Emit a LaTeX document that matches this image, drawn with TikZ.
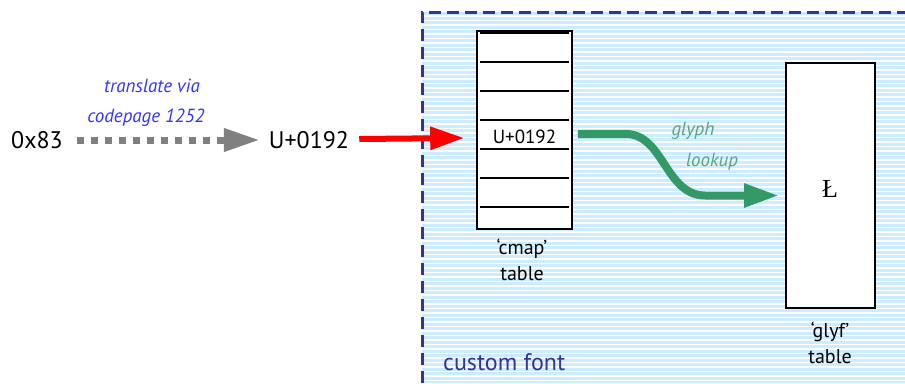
\documentclass[tikz,border=0pt]{standalone}
\usepackage{fontspec}
\setmainfont{PT Sans}
\newfontfamily\glyphfont{Liberation Serif}
\usetikzlibrary{arrows.meta,positioning,calc}
\definecolor{fontBlue}{RGB}{51,51,153}
\definecolor{stripeBlue}{RGB}{204,236,255}
\definecolor{labelBlue}{RGB}{51,51,255}
\definecolor{lookupGreen}{RGB}{51,153,102}
\definecolor{lookupLabel}{RGB}{85,165,125}
\definecolor{arrowGray}{RGB}{128,128,128}

\begin{document}
\begin{tikzpicture}[
  x=1pt,y=-1pt,
  code/.style={
    inner sep=0pt,
    font=\fontsize{24}{28}\selectfont
  },
  note/.style={
    inner sep=0pt,
    font=\fontsize{19}{22}\selectfont\itshape
  },
  caption/.style={
    inner sep=0pt,
    align=center,
    font=\fontsize{20}{28}\selectfont
  },
  table/.style={
    draw,
    line width=1.6pt,
    fill=white,
    inner sep=0pt
  },
  translate/.style={
    arrowGray,
    line width=7pt,
    dash pattern=on 7pt off 7pt,
    -{Triangle[length=36pt,width=22pt]}
  },
  map/.style={
    red,
    line width=6pt,
    -{Triangle[length=34pt,width=22pt]}
  },
  lookup/.style={
    lookupGreen,
    line width=8pt,
    -{Triangle[length=35pt,width=22pt]}
  }
]
  \useasboundingbox (0,0) rectangle (905,383);

  % custom font area
  \fill[stripeBlue] (422,12) rectangle (905,383);
  \foreach \y in {16,20.5,...,383}
    \draw[white,line width=1.1pt] (422,\y) -- (905,\y);
  \draw[fontBlue,line width=3pt,dash pattern=on 12pt off 6pt]
    (422,383) -- (422,12) -- (905,12);
  \node[inner sep=0pt,text=fontBlue,anchor=west,
    font=\fontsize{24}{28}\selectfont] (font) at (443,362) {custom font};

  % input codes
  \node[code] (byte) at (37,140) {0x83};
  \node[code] (uni) at (309,140) {U+0192};
  \node[note,text=labelBlue] (via) at (152,86) {translate via};
  \node[note,text=labelBlue] (page) at (146,118) {codepage 1252};

  % cmap table
  \node[table,minimum width=95pt,minimum height=198pt] (cmap) at (524.5,130) {};
  \foreach \dy in {3,32,61,90,119,148,177}
    \draw[line width=1.5pt] ($(cmap.north west)+(3.5,\dy)$) -- ($(cmap.north east)+(-3.5,\dy)$);
  \node[inner sep=0pt,font=\fontsize{19}{22}\selectfont] (cell) at (524.5,137) {U+0192};
  \node[caption] (cmapcap) at (522,260) {‘cmap’\\[-2pt]table};

  % glyf table
  \node[table,minimum width=89pt,minimum height=245pt] (glyf) at (830.5,185.5) {};
  \node[inner sep=0pt,font=\fontsize{26}{30}\glyphfont] (glyph) at (830,189) {Ł};
  \node[caption] (glyfcap) at (830,343) {‘glyf’\\[-2pt]table};

  % arrows
  \draw[translate] ($(byte.east)+(14,0)$) -- ($(uni.west)+(-9,0)$);
  \draw[map] ($(uni.east)+(10,-1)$) -- ($(cmap.west)+(-12,8)$);
  \draw[lookup] ($(cmap.east)+(5,4)$) -- ++(48,0)
    .. controls +(38,0) and +(-40,0) .. ($(glyf.west)+(-80,10)$)
    -- ($(glyf.west)+(-6,10)$);
  \node[note,text=lookupLabel] (glyphlbl) at (693,131) {glyph};
  \node[note,text=lookupLabel] (lookuplbl) at (712,162) {lookup};
\end{tikzpicture}
\end{document}
